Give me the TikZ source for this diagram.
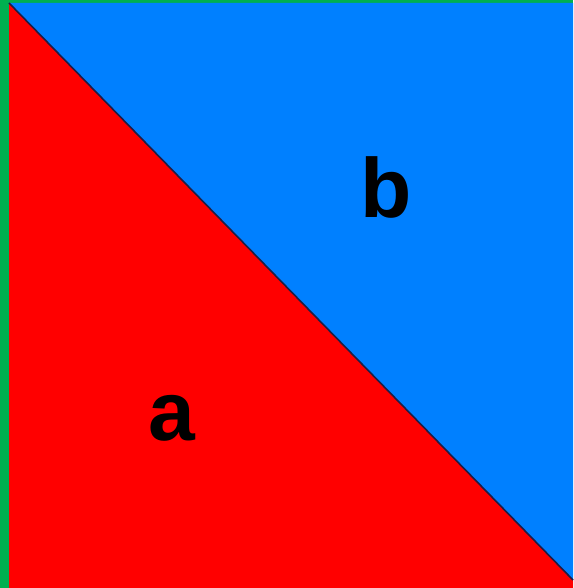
\documentclass[tikz,border=0pt]{standalone}
\usepackage{fontspec}
\setmainfont{Liberation Sans}
\definecolor{gbar}{RGB}{0,176,80}
\definecolor{bfill}{RGB}{0,128,255}
\definecolor{rfill}{RGB}{255,0,0}
\definecolor{edge}{RGB}{30,30,70}
\begin{document}
\begin{tikzpicture}[x=1pt,y=1pt,
  lbl/.style={font=\fontsize{84}{84}\selectfont\bfseries, inner sep=0pt, text=black}]
\useasboundingbox (0,0) rectangle (573,588);
\fill[gbar] (0,0) rectangle (573,588);
\coordinate (tl) at (9,585);
\coordinate (tr) at (573,585);
\coordinate (br) at (573,0);
\coordinate (bl) at (9,0);
\coordinate (de) at (573,8);
\fill[bfill] (tl) -- (tr) -- (de) -- cycle;
\fill[rfill] (tl) -- (de) -- (br) -- (bl) -- cycle;
\draw[edge, line width=1.6pt] (tl) -- (de);
\node[lbl] (b) at (386,401) {b};
\node[lbl] (a) at (172,170) {a};
\end{tikzpicture}
\end{document}
